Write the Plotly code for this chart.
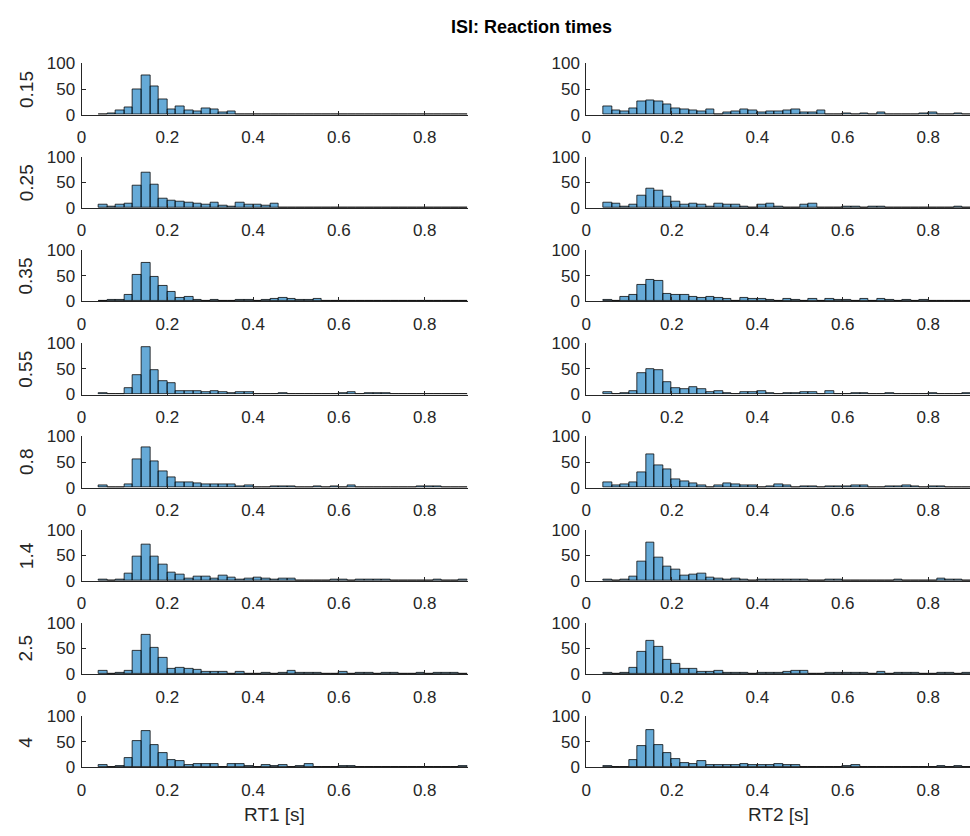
import plotly.graph_objects as go

# ---------------- data ----------------
isi_labels = ["0.15", "0.25", "0.35", "0.55", "0.8", "1.4", "2.5", "4"]

bin_centers = [0.05, 0.07, 0.09, 0.11, 0.13, 0.15, 0.17, 0.19, 0.21, 0.23,
               0.25, 0.27, 0.29, 0.31, 0.33, 0.35, 0.37, 0.39, 0.41, 0.43,
               0.45, 0.47, 0.49, 0.51, 0.53, 0.55, 0.57, 0.59, 0.61, 0.63,
               0.65, 0.67, 0.69, 0.71, 0.73, 0.75, 0.77, 0.79, 0.81, 0.83,
               0.85, 0.87, 0.89]
bin_width = 0.02

rt1_isi015 = [1, 2, 8, 15, 50, 77, 55, 30, 11, 16, 8, 6, 13, 11, 4, 6, 0, 1, 1, 1,
              0, 1, 0, 0, 0, 0, 0, 0, 0, 0, 0, 0, 0, 0, 1, 0, 0, 1, 0, 0, 0, 0, 0]
rt1_isi025 = [6, 2, 6, 8, 44, 69, 46, 19, 15, 12, 10, 8, 6, 10, 5, 2, 10, 6, 6, 4,
              8, 1, 1, 1, 0, 0, 1, 0, 0, 0, 0, 0, 0, 0, 0, 0, 0, 0, 0, 0, 0, 0, 0]
rt1_isi035 = [1, 2, 3, 13, 51, 74, 47, 30, 19, 6, 8, 2, 1, 3, 0, 1, 2, 2, 1, 3,
              4, 6, 5, 2, 3, 4, 1, 1, 1, 0, 1, 0, 0, 0, 0, 0, 0, 0, 0, 0, 0, 1, 0]
rt1_isi055 = [3, 0, 1, 13, 38, 92, 47, 26, 22, 7, 7, 7, 5, 6, 5, 3, 4, 4, 1, 0,
              1, 2, 0, 1, 1, 1, 1, 0, 3, 5, 0, 2, 2, 2, 1, 1, 1, 0, 0, 0, 1, 0, 0]
rt1_isi080 = [4, 0, 1, 7, 55, 78, 52, 32, 20, 11, 10, 8, 6, 6, 6, 7, 2, 4, 1, 0,
              2, 3, 2, 0, 1, 2, 0, 3, 1, 5, 1, 1, 1, 1, 1, 0, 0, 3, 2, 2, 0, 1, 0]
rt1_isi140 = [2, 1, 3, 14, 47, 71, 48, 31, 16, 13, 5, 8, 8, 5, 10, 6, 3, 5, 6, 4,
              3, 4, 4, 1, 1, 1, 1, 2, 2, 0, 2, 2, 2, 2, 0, 0, 1, 1, 0, 2, 0, 0, 3]
rt1_isi250 = [7, 0, 2, 6, 45, 76, 52, 31, 10, 12, 11, 9, 5, 4, 4, 1, 4, 1, 1, 2,
              1, 2, 6, 2, 2, 2, 1, 1, 4, 1, 2, 2, 1, 3, 2, 1, 0, 2, 1, 2, 2, 2, 1]
rt1_isi400 = [5, 1, 3, 18, 51, 71, 43, 28, 15, 13, 5, 7, 7, 6, 1, 7, 7, 3, 1, 4,
              3, 4, 1, 2, 6, 1, 1, 0, 2, 2, 0, 1, 1, 1, 1, 1, 0, 1, 1, 0, 1, 1, 2]

rt2_isi015 = [16, 9, 7, 13, 27, 28, 27, 21, 13, 11, 9, 7, 11, 0, 5, 7, 10, 9, 4, 6,
              6, 8, 11, 4, 4, 9, 1, 1, 2, 0, 3, 0, 5, 1, 1, 0, 1, 2, 5, 0, 1, 3, 1]
rt2_isi025 = [11, 8, 3, 6, 24, 38, 34, 22, 13, 7, 8, 6, 3, 9, 6, 6, 3, 1, 6, 8,
              2, 1, 1, 6, 8, 1, 1, 0, 2, 3, 0, 3, 3, 0, 0, 1, 0, 1, 1, 0, 1, 2, 0]
rt2_isi035 = [2, 1, 9, 13, 32, 41, 39, 15, 13, 13, 9, 7, 9, 7, 4, 1, 7, 4, 4, 3,
              0, 4, 2, 1, 5, 1, 5, 3, 2, 1, 4, 0, 4, 3, 0, 2, 0, 2, 0, 1, 0, 1, 1]
rt2_isi055 = [4, 1, 2, 6, 41, 50, 47, 24, 13, 10, 15, 10, 4, 7, 3, 1, 5, 5, 7, 2,
              1, 3, 3, 5, 5, 0, 6, 1, 1, 2, 2, 0, 1, 2, 1, 0, 0, 0, 3, 1, 1, 0, 2]
rt2_isi080 = [10, 4, 7, 10, 30, 65, 43, 35, 17, 13, 9, 5, 1, 5, 8, 7, 4, 4, 1, 3,
              7, 4, 1, 3, 3, 1, 3, 3, 2, 4, 5, 0, 0, 2, 3, 4, 3, 0, 2, 2, 1, 1, 1]
rt2_isi140 = [2, 1, 2, 9, 38, 74, 46, 29, 22, 10, 12, 14, 7, 5, 3, 5, 3, 1, 3, 3,
              2, 2, 2, 2, 1, 1, 3, 2, 1, 1, 1, 1, 1, 1, 3, 0, 1, 0, 0, 4, 2, 2, 0]
rt2_isi250 = [2, 1, 2, 12, 44, 65, 54, 28, 20, 11, 10, 4, 4, 6, 3, 3, 2, 1, 3, 3,
              3, 4, 6, 6, 0, 1, 2, 2, 3, 2, 2, 0, 4, 0, 3, 2, 2, 1, 0, 2, 2, 1, 2]
rt2_isi400 = [3, 0, 1, 15, 41, 72, 43, 28, 16, 9, 7, 13, 4, 4, 4, 5, 6, 5, 5, 5,
              7, 4, 5, 1, 1, 0, 0, 1, 3, 4, 0, 1, 1, 1, 1, 1, 1, 1, 1, 3, 1, 3, 0]

rt1_counts = [rt1_isi015, rt1_isi025, rt1_isi035, rt1_isi055,
              rt1_isi080, rt1_isi140, rt1_isi250, rt1_isi400]
rt2_counts = [rt2_isi015, rt2_isi025, rt2_isi035, rt2_isi055,
              rt2_isi080, rt2_isi140, rt2_isi250, rt2_isi400]

x_tickvals = [0, 0.2, 0.4, 0.6, 0.8]
x_ticktext = ["0", "0.2", "0.4", "0.6", "0.8"]
y_tickvals = [0, 50, 100]
y_ticktext = ["0", "50", "100"]
column_titles = ["RT1 [s]", "RT2 [s]"]
main_title = "ISI: Reaction times"

# ---------------- layout geometry (window pixels) ----------------
W, H = 970, 836
FONT = "Liberation Sans, Arial, Helvetica, sans-serif"
AX = "#262626"
BAR_FILL = "rgba(0,114,189,0.6)"


def px_x(X):
    return X / W


def px_y(Y):
    return 1 - Y / H


XMAX = 0.9
col_px = [(77.0, 465.0), (584.3, 971.0)]
row_top0, row_step, row_h = 55.7, 95.4, 52.6

fig = go.Figure()
annotations = []
n_rows = len(isi_labels)
idx = 0
for r in range(n_rows):
    top = row_top0 + row_step * r
    bot = top + row_h
    ydom = [px_y(bot), px_y(top)]
    for c, counts in enumerate([rt1_counts[r], rt2_counts[r]]):
        idx += 1
        xa = "x" if idx == 1 else f"x{idx}"
        ya = "y" if idx == 1 else f"y{idx}"
        fig.add_trace(go.Bar(
            x=bin_centers, y=counts, width=bin_width,
            marker=dict(color=BAR_FILL, line=dict(color="rgba(0,0,0,0.85)", width=0.9)),
            xaxis=xa, yaxis=ya, showlegend=False, hoverinfo="x+y"))
        x0, x1 = col_px[c]
        x1_vis = min(x1, W)
        xr_end = XMAX * (x1_vis - x0) / (x1 - x0)
        xd = [px_x(x0), px_x(x1_vis)]
        xkey = "xaxis" if idx == 1 else f"xaxis{idx}"
        ykey = "yaxis" if idx == 1 else f"yaxis{idx}"
        fig.update_layout(**{
            xkey: dict(domain=xd, anchor=ya, range=[0, xr_end],
                       tickvals=x_tickvals, ticktext=x_ticktext,
                       ticks="inside", ticklen=4, tickcolor=AX, tickwidth=1,
                       ticklabelstandoff=7,
                       showline=True, linecolor=AX, linewidth=1,
                       showgrid=False, zeroline=False,
                       tickfont=dict(family=FONT, size=17, color=AX),
                       fixedrange=True),
            ykey: dict(domain=ydom, anchor=xa, range=[0, 100],
                       tickvals=y_tickvals, ticktext=y_ticktext,
                       ticks="inside", ticklen=4, tickcolor=AX, tickwidth=1,
                       ticklabelstandoff=2,
                       showline=True, linecolor=AX, linewidth=1,
                       showgrid=False, zeroline=False,
                       tickfont=dict(family=FONT, size=17, color=AX),
                       fixedrange=True),
        })
    annotations.append(dict(
        text=isi_labels[r], x=px_x(21), y=px_y(top + row_h / 2),
        xref="paper", yref="paper", xanchor="center", yanchor="middle",
        textangle=-90, showarrow=False,
        font=dict(family=FONT, size=19, color=AX)))

for c, t in enumerate(column_titles):
    annotations.append(dict(
        text=t, x=px_x((col_px[c][0] + min(col_px[c][1], W)) / 2), y=px_y(824),
        xref="paper", yref="paper", xanchor="center", yanchor="middle",
        showarrow=False, font=dict(family=FONT, size=19, color=AX)))

annotations.append(dict(
    text=f"<b>{main_title}</b>", x=px_x(529), y=px_y(18),
    xref="paper", yref="paper", xanchor="center", yanchor="middle",
    showarrow=False, font=dict(family=FONT, size=18, color="#000000")))

fig.update_layout(
    width=W, height=H, autosize=False,
    margin=dict(l=0, r=0, t=0, b=0),
    paper_bgcolor="white", plot_bgcolor="white",
    bargap=0, barmode="overlay",
    annotations=annotations,
    font=dict(family=FONT, color=AX),
)

fig.write_html("out.html", config={"displayModeBar": False})
